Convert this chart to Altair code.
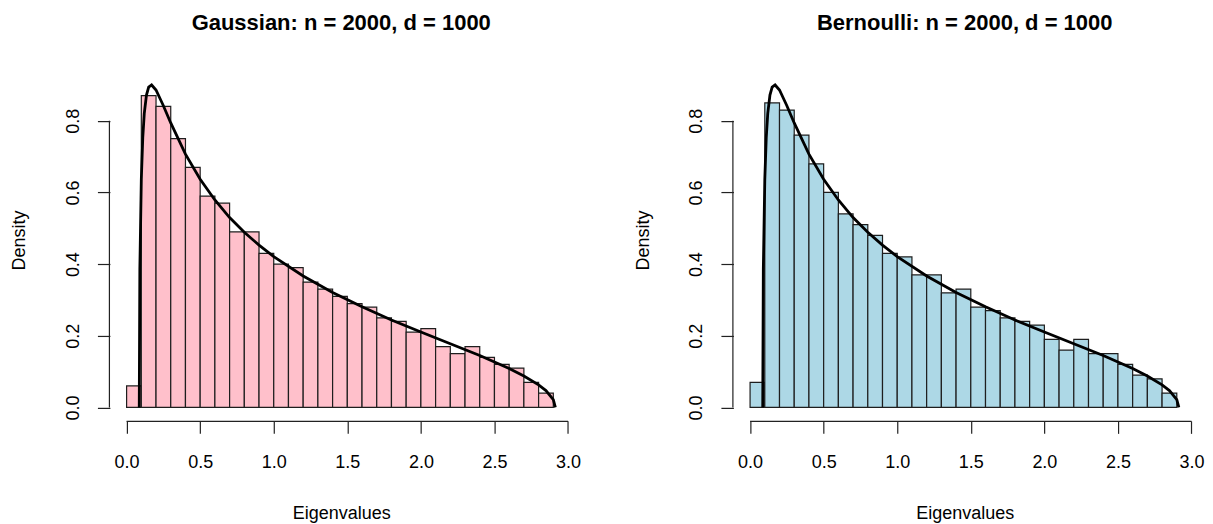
import altair as alt
import pandas as pd

# Histogram bins (width 0.1)
bin_left = [0.0, 0.1, 0.2, 0.3, 0.4, 0.5, 0.6, 0.7, 0.8, 0.9, 1.0, 1.1, 1.2, 1.3, 1.4,
            1.5, 1.6, 1.7, 1.8, 1.9, 2.0, 2.1, 2.2, 2.3, 2.4, 2.5, 2.6, 2.7, 2.8]
bin_right = [0.1, 0.2, 0.3, 0.4, 0.5, 0.6, 0.7, 0.8, 0.9, 1.0, 1.1, 1.2, 1.3, 1.4, 1.5,
             1.6, 1.7, 1.8, 1.9, 2.0, 2.1, 2.2, 2.3, 2.4, 2.5, 2.6, 2.7, 2.8, 2.9]

gauss_density = [0.06, 0.87, 0.84, 0.75, 0.67, 0.59, 0.57, 0.49, 0.49, 0.43, 0.40, 0.39,
                 0.35, 0.33, 0.31, 0.29, 0.28, 0.25, 0.24, 0.21, 0.22, 0.17, 0.15, 0.17,
                 0.14, 0.12, 0.11, 0.07, 0.04]
bern_density = [0.07, 0.85, 0.83, 0.76, 0.68, 0.60, 0.54, 0.51, 0.48, 0.43, 0.42, 0.37,
                0.37, 0.32, 0.33, 0.28, 0.27, 0.25, 0.24, 0.23, 0.19, 0.16, 0.19, 0.15,
                0.15, 0.12, 0.09, 0.08, 0.04]

# Overlaid density curve
curve_x = [0.086, 0.09, 0.10, 0.11, 0.12, 0.135, 0.15, 0.17, 0.20, 0.25, 0.30, 0.40,
           0.50, 0.60, 0.70, 0.80, 0.90, 1.00, 1.20, 1.40, 1.60, 1.80, 2.00, 2.20,
           2.40, 2.60, 2.70, 2.80, 2.85, 2.90, 2.914]
curve_y = [0.0, 0.385, 0.636, 0.754, 0.820, 0.872, 0.894, 0.900, 0.886, 0.842, 0.794,
           0.707, 0.637, 0.579, 0.530, 0.489, 0.453, 0.421, 0.367, 0.321, 0.281, 0.244,
           0.2105, 0.178, 0.145, 0.109, 0.088, 0.063, 0.047, 0.022, 0.0]

x_ticks = [0.0, 0.5, 1.0, 1.5, 2.0, 2.5, 3.0]
y_ticks = [0.0, 0.2, 0.4, 0.6, 0.8]
x_axis_span = [0.0, 3.0]
y_axis_span = [0.0, 0.8]

titles = ["Gaussian: n = 2000, d = 1000", "Bernoulli: n = 2000, d = 1000"]
fills = ["#FFC0CB", "#ADD8E6"]

FONT = "Liberation Sans"
W, H = 463, 362

xscale = alt.Scale(domain=[-0.1134, 3.0306], nice=False, zero=False)
yscale = alt.Scale(domain=[-0.0374, 0.972], nice=False, zero=False)

xaxis = alt.Axis(values=x_ticks, format=".1f", grid=False, domain=False,
                 tickSize=12.5, tickColor="#222222", tickWidth=1.2,
                 labelFont=FONT, labelFontSize=18, labelColor="black",
                 labelPadding=20, labelBaseline="top", labelFlush=False,
                 titleFont=FONT, titleFontSize=18, titleFontWeight="normal",
                 titleColor="black", titleBaseline="top", titleY=83.3)
yaxis = alt.Axis(values=y_ticks, format=".1f", grid=False, domain=False,
                 tickSize=12.5, tickColor="#222222", tickWidth=1.2,
                 labelFont=FONT, labelFontSize=18, labelColor="black",
                 labelAngle=270, labelAlign="center", labelBaseline="bottom",
                 labelPadding=15, labelFlush=False,
                 titleFont=FONT, titleFontSize=18, titleFontWeight="normal",
                 titleColor="black", titleAngle=270, titleBaseline="bottom",
                 titleX=-81, titleAlign="center")

curve_df = pd.DataFrame({"x": curve_x, "y": curve_y})


def panel(dens, fill, title):
    df = pd.DataFrame({"x": bin_left, "x2": bin_right, "y": dens,
                       "y0": [0.0] * len(dens)})
    bars = alt.Chart(df).mark_rect(fill=fill, stroke="#1e1e1e", strokeWidth=1.2).encode(
        x=alt.X("x:Q", scale=xscale, axis=xaxis, title="Eigenvalues"),
        x2="x2:Q",
        y=alt.Y("y:Q", scale=yscale, axis=yaxis, title="Density"),
        y2="y0:Q",
    )
    line = alt.Chart(curve_df).mark_line(color="black", strokeWidth=2.8).encode(
        x=alt.X("x:Q", scale=xscale, title="Eigenvalues"),
        y=alt.Y("y:Q", scale=yscale, title="Density"),
    )
    one = pd.DataFrame({"a": [0]})
    xrule = alt.Chart(one).mark_rule(color="#222222", strokeWidth=1.2).encode(
        x=alt.datum(x_axis_span[0]), x2=alt.datum(x_axis_span[1]),
        y=alt.value(H + 0.5),
    )
    yrule = alt.Chart(one).mark_rule(color="#222222", strokeWidth=1.2).encode(
        y=alt.datum(y_axis_span[0]), y2=alt.datum(y_axis_span[1]),
        x=alt.value(-0.5),
    )
    return alt.layer(bars, line, xrule, yrule).properties(
        width=W, height=H,
        title=alt.TitleParams(title, font=FONT, fontSize=22, fontWeight="bold",
                              color="black", anchor="middle", baseline="bottom",
                              offset=2),
    )


chart = alt.hconcat(
    panel(gauss_density, fills[0], titles[0]),
    panel(bern_density, fills[1], titles[1]),
    spacing=53,
).properties(
    padding={"left": 3, "top": 4, "right": 0, "bottom": 0}
).configure_view(stroke=None)

chart.save("out.html", embed_options={"renderer": "svg", "actions": False})
